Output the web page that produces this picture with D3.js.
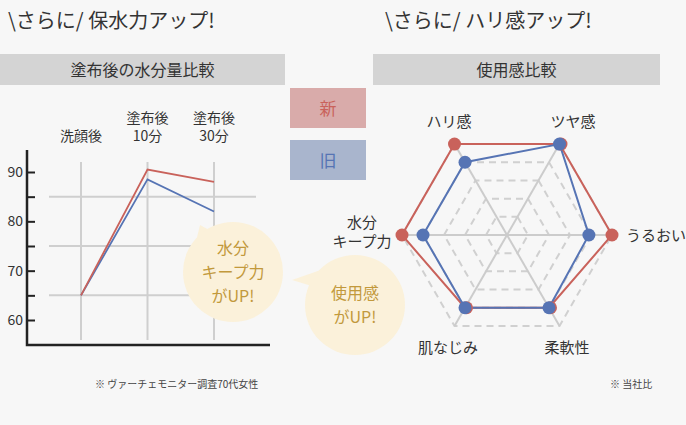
<!DOCTYPE html>
<html><head><meta charset="utf-8">
<script src="https://cdn.jsdelivr.net/npm/d3@7"></script>
<style>body{margin:0;background:#f7f7f7}text{font-family:"Noto Sans CJK JP",sans-serif}</style>
</head><body>
<script>
const times = ["洗顔後", "塗布後\n10分", "塗布後\n30分"];
const newWater = [65, 90.5, 88];
const oldWater = [65, 88.5, 82];
const yTicks = [60, 70, 80, 90];
const axes = ["ツヤ感", "うるおい", "柔軟性", "肌なじみ", "水分\nキープ力", "ハリ感"];
const newFeel = [5, 5, 4, 4, 5, 5];
const oldFeel = [5, 3.9, 4, 4, 4, 4];
const RED = "#c9625b", BLUE = "#5674b4";

const svg = d3.select("body").append("svg").attr("width", 686).attr("height", 425);

// headers
svg.append("text").attr("x", 8).attr("y", 28).attr("font-size", 20).attr("fill", "#333").text("\\さらに/  保水力アップ!");
svg.append("text").attr("x", 385).attr("y", 28).attr("font-size", 20).attr("fill", "#333").text("\\さらに/  ハリ感アップ!");
[[0, 285, "塗布後の水分量比較"], [373, 287, "使用感比較"]].forEach(([x, w, t]) => {
  svg.append("rect").attr("x", x).attr("y", 54).attr("width", w).attr("height", 31).attr("fill", "#d4d4d4");
  svg.append("text").attr("x", x + w / 2).attr("y", 76).attr("text-anchor", "middle").attr("font-size", 16).attr("fill", "#333").text(t);
});

// legend
[["新", "#d9abaa", RED, 88], ["旧", "#a9b5cd", BLUE, 140]].forEach(([t, bg, c, y]) => {
  svg.append("rect").attr("x", 290).attr("y", y).attr("width", 76).attr("height", 40).attr("fill", bg);
  svg.append("text").attr("x", 328).attr("y", y + 27).attr("text-anchor", "middle").attr("font-size", 17).attr("fill", c).text(t);
});

// line chart
const x = d3.scalePoint().domain(times).range([81, 214]);
const y = d3.scaleLinear().domain([60, 90]).range([320, 172]);
const g = svg.append("g");
[65, 75, 85].forEach(v => g.append("line").attr("x1", 49).attr("x2", 256).attr("y1", y(v)).attr("y2", y(v)).attr("stroke", "#cfcfcf").attr("stroke-width", 2));
times.forEach(t => g.append("line").attr("x1", x(t)).attr("x2", x(t)).attr("y1", 162).attr("y2", 340).attr("stroke", "#cfcfcf").attr("stroke-width", 2));
g.append("g").attr("transform", "translate(27,0)")
  .call(d3.axisLeft(y).tickValues(d3.range(60, 91, 5)).tickSize(8).tickFormat(d => yTicks.includes(d) ? d : ""))
  .call(a => a.select(".domain").remove())
  .call(a => a.selectAll("line").attr("x1", 0).attr("x2", 8).attr("stroke", "#222").attr("stroke-width", 2))
  .call(a => a.selectAll("text").attr("x", -4).attr("font-size", 14).attr("fill", "#333").attr("font-family", "Noto Sans CJK JP"));
g.append("path").attr("d", "M27,150V345H270").attr("fill", "none").attr("stroke", "#222").attr("stroke-width", 2.5);
times.forEach(t => {
  const lines = t.split("\n");
  lines.forEach((l, i) => g.append("text").attr("x", x(t)).attr("y", 141 - (lines.length - 1 - i) * 18)
    .attr("text-anchor", "middle").attr("font-size", 14).attr("fill", "#333").text(l));
});
const line = d3.line().x((d, i) => x(times[i])).y(d => y(d));
g.append("path").datum(oldWater).attr("d", line).attr("fill", "none").attr("stroke", BLUE).attr("stroke-width", 1.8);
g.append("path").datum(newWater).attr("d", line).attr("fill", "none").attr("stroke", RED).attr("stroke-width", 1.8);

// radar
const cx = 507, cy = 235;
const r = d3.scaleLinear().domain([0, 5]).range([0, 105]);
const ang = i => Math.PI / 2 - Math.PI / 6 - i * Math.PI / 3;
const pt = (v, i) => [cx + r(v) * Math.cos(ang(i)), cy - r(v) * Math.sin(ang(i))];
const rg = svg.append("g");
d3.range(1, 6).forEach(l => rg.append("path").attr("d", d3.line()(axes.map((a, i) => pt(l, i))) + "Z")
  .attr("fill", "none").attr("stroke", "#d0d0d0").attr("stroke-width", 2).attr("stroke-dasharray", "7,5"));
axes.forEach((a, i) => {
  const [px, py] = pt(5, i);
  rg.append("line").attr("x1", cx).attr("y1", cy).attr("x2", px).attr("y2", py).attr("stroke", "#cccccc").attr("stroke-width", 2);
});
[[newFeel, RED], [oldFeel, BLUE]].forEach(([d, c]) => {
  rg.append("path").attr("d", d3.line()(d.map(pt)) + "Z").attr("fill", "none").attr("stroke", c).attr("stroke-width", 2);
});
[[newFeel, RED], [oldFeel, BLUE]].forEach(([d, c]) => {
  rg.selectAll(null).data(d).join("circle").attr("cx", (v, i) => pt(v, i)[0] + (c === RED && d[i] === oldFeel[i] ? 1.5 : 0))
    .attr("cy", (v, i) => pt(v, i)[1]).attr("r", 6.5).attr("fill", c);
});
const labPos = [[573, 127, "middle"], [626, 241, "start"], [567, 353, "middle"], [448, 353, "middle"], [362, 228, "middle"], [449, 127, "middle"]];
axes.forEach((a, i) => {
  const [lx, ly, an] = labPos[i];
  const lines = a.split("\n");
  lines.forEach((l, k) => svg.append("text").attr("x", lx).attr("y", ly + k * 19).attr("text-anchor", an)
    .attr("font-size", 15).attr("fill", "#333").text(l));
});

// bubbles
[[233, 272, ["水分", "キープ力", "がUP!"], 200, 225], [355, 305, ["使用感", "がUP!"], 292, 280]].forEach(([bx, by, t, tx, ty]) => {
  svg.append("path").attr("d", `M${bx - 40},${by - 18}L${tx},${ty}L${bx - 20},${by - 40}Z`).attr("fill", "#fbf1da");
  svg.append("circle").attr("cx", bx).attr("cy", by).attr("r", 50).attr("fill", "#fbf1da");
  t.forEach((l, k) => svg.append("text").attr("x", bx).attr("y", by - (t.length - 1) * 12 + k * 24 + 6)
    .attr("text-anchor", "middle").attr("font-size", 16).attr("fill", "#c2993c").text(l));
});

svg.append("text").attr("x", 95).attr("y", 388).attr("font-size", 10).attr("fill", "#444").text("※ ヴァーチェモニター調査70代女性");
svg.append("text").attr("x", 610).attr("y", 388).attr("font-size", 10).attr("fill", "#444").text("※ 当社比");
</script>
</body></html>
